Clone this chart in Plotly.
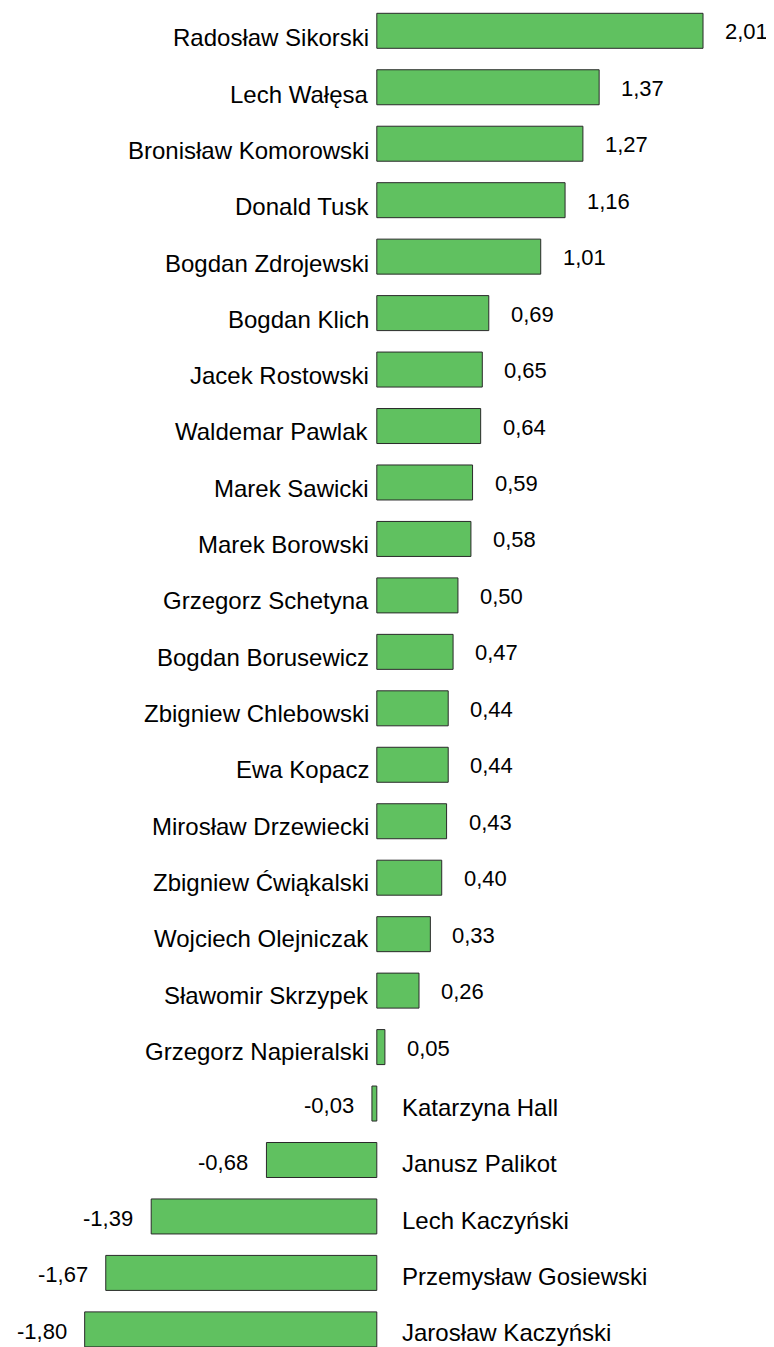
import plotly.graph_objects as go

names = [
    "Radosław Sikorski", "Lech Wałęsa", "Bronisław Komorowski", "Donald Tusk",
    "Bogdan Zdrojewski", "Bogdan Klich", "Jacek Rostowski", "Waldemar Pawlak",
    "Marek Sawicki", "Marek Borowski", "Grzegorz Schetyna", "Bogdan Borusewicz",
    "Zbigniew Chlebowski", "Ewa Kopacz", "Mirosław Drzewiecki", "Zbigniew Ćwiąkalski",
    "Wojciech Olejniczak", "Sławomir Skrzypek", "Grzegorz Napieralski", "Katarzyna Hall",
    "Janusz Palikot", "Lech Kaczyński", "Przemysław Gosiewski", "Jarosław Kaczyński",
]
values = [
    2.01, 1.37, 1.27, 1.16, 1.01, 0.69, 0.65, 0.64, 0.59, 0.58, 0.50, 0.47,
    0.44, 0.44, 0.43, 0.40, 0.33, 0.26, 0.05, -0.03, -0.68, -1.39, -1.67, -1.80,
]
value_labels = [f"{v:.2f}".replace(".", ",") for v in values]

FONT = "Liberation Sans, Arial, sans-serif"
PAGE_W, PAGE_H = 774, 1347
OFF = 8  # default body margin of the html page
W, H = PAGE_W - OFF, PAGE_H
zero_px = 376.8 - OFF
ppu = 162.3
row0 = 30.8 - OFF
row_step = 56.46

fig = go.Figure()
fig.add_trace(go.Bar(
    x=values, y=list(range(len(names))), orientation="h",
    width=0.62,
    marker=dict(color="#60C160", line=dict(color="#2a2a2a", width=1)),
    hoverinfo="skip",
))

n_rows = len(names)
annotations = []
for i, (n, v, lab) in enumerate(zip(names, values, value_labels)):
    name_shift = -7 + 3.5 * i / (n_rows - 1)
    if v >= 0:
        annotations.append(dict(x=0, y=i, text=n, xanchor="right", xshift=-6,
                                yshift=name_shift, showarrow=False, font=dict(size=24)))
        annotations.append(dict(x=v, y=i, text=lab, xanchor="left", xshift=20,
                                yshift=-1, showarrow=False, font=dict(size=22)))
    else:
        annotations.append(dict(x=0, y=i, text=n, xanchor="left", xshift=23,
                                yshift=name_shift, showarrow=False, font=dict(size=24)))
        annotations.append(dict(x=v, y=i, text=lab, xanchor="right", xshift=-16,
                                yshift=-2, showarrow=False, font=dict(size=22)))
for a in annotations:
    a.update(xref="x", yref="y", yanchor="middle")
    a["font"].update(family=FONT, color="#000000")

x_left = -zero_px / ppu
x_right = (W - zero_px) / ppu
y_top = -row0 / row_step
y_bottom = (n_rows - 1) + (H - (row0 + (n_rows - 1) * row_step)) / row_step

fig.update_layout(
    width=W, height=H,
    margin=dict(l=0, r=0, t=0, b=0),
    paper_bgcolor="white", plot_bgcolor="white",
    showlegend=False,
    annotations=annotations,
    xaxis=dict(range=[x_left, x_right], visible=False, fixedrange=True),
    yaxis=dict(range=[y_bottom, y_top], visible=False, fixedrange=True),
    font=dict(family=FONT, size=22),
)
fig.write_html("out.html")
